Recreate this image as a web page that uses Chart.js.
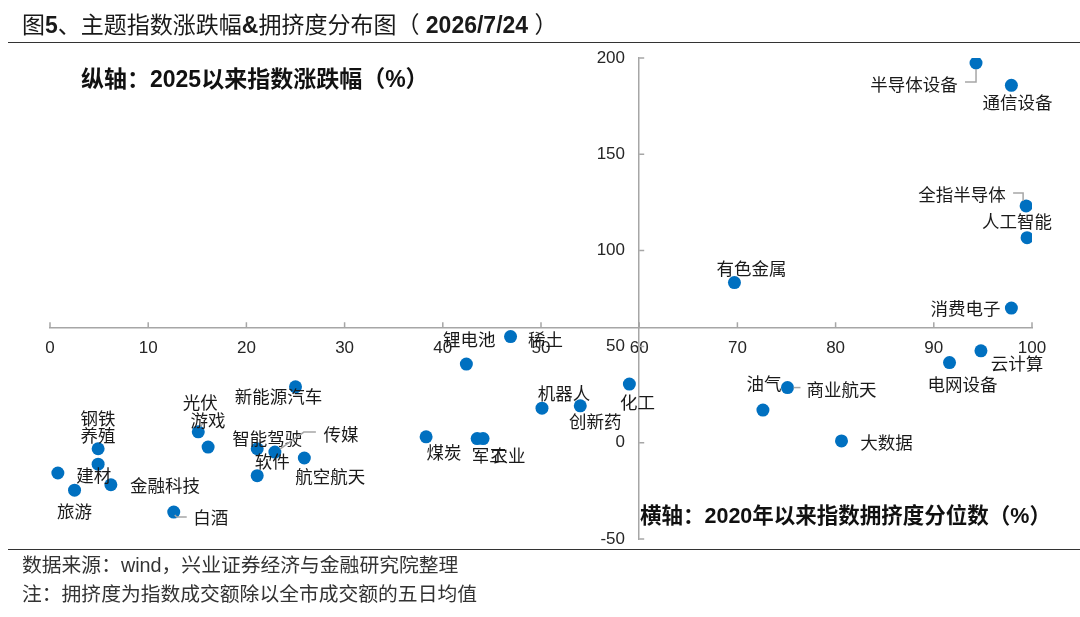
<!DOCTYPE html>
<html>
<head>
<meta charset="utf-8">
<script src="https://cdn.jsdelivr.net/npm/chart.js@4"></script>
<style>
  body { margin: 0; background: #fff; }
  #wrap { position: relative; width: 1080px; height: 617px; overflow: hidden; font-family: "Liberation Sans", "Noto Sans CJK SC", sans-serif; color: #1a1a1a; }
  #chart { position: absolute; left: 0; top: 0; }
  .txt { position: absolute; white-space: pre; line-height: 26px; }
  .title { left: 22px; top: 12px; font-size: 23px; }
  .title b { font-weight: bold; }
  .rule { position: absolute; left: 8px; right: 0; height: 1.5px; background: #333; }
  .axis-name { font-weight: bold; color: #111; }
  .note { left: 22px; font-size: 19.8px; color: #333; }
</style>
</head>
<body>
<div id="wrap">
  <canvas id="chart" width="1080" height="617"></canvas>
  <div class="txt title">图<b>5</b>、主题指数涨跌幅<b>&amp;</b>拥挤度分布图（ <b>2026/7/24</b> ）</div>
  <div class="rule" style="top:41.5px"></div>
  <div class="txt axis-name" style="left:81px; top:66px; font-size:23px">纵轴：2025以来指数涨跌幅（%）</div>
  <div class="txt axis-name" style="left:640px; top:503px; font-size:21.5px">横轴：2020年以来指数拥挤度分位数（%）</div>
  <div class="rule" style="top:548.5px"></div>
  <div class="txt note" style="top:552px">数据来源：wind，兴业证券经济与金融研究院整理</div>
  <div class="txt note" style="top:581px">注：拥挤度为指数成交额除以全市成交额的五日均值</div>
</div>

<script>
// ================= DATA =================
const names = ["半导体设备", "通信设备", "全指半导体", "人工智能", "有色金属", "消费电子", "云计算", "电网设备",
  "商业航天", "油气", "大数据", "稀土", "锂电池", "化工", "机器人", "创新药", "煤炭", "军工", "农业",
  "新能源汽车", "光伏", "游戏", "钢铁", "养殖", "建材", "金融科技", "旅游", "白酒", "智能驾驶", "传媒", "航空航天", "软件"];

// 横轴：2020年以来指数拥挤度分位数（%）
const crowding = [94.3, 97.9, 99.4, 99.5, 69.7, 97.9, 94.8, 91.6,
  75.1, 72.6, 80.6, 46.9, 42.4, 59.0, 50.1, 54.0, 38.3, 43.5, 44.1,
  25.0, 15.1, 16.1, 4.9, 4.9, 0.8, 6.2, 2.5, 12.6, 21.1, 22.9, 25.9, 21.1];

// 纵轴：2025以来指数涨跌幅（%）
const change = [197.4, 185.8, 123.1, 106.6, 83.3, 70.0, 47.8, 41.7,
  28.7, 17.0, 1.0, 55.2, 40.9, 30.5, 18.0, 19.2, 3.1, 2.2, 2.2,
  29.1, 5.7, -2.2, -3.1, -11.1, -15.7, -21.8, -24.6, -36.0, -3.1, -4.8, -7.9, -17.1];

const xTicks = [0, 10, 20, 30, 40, 50, 60, 70, 80, 90, 100];
const yTicks = [-50, 0, 50, 100, 150, 200];

// ================= LABEL LAYOUT (px, relative to point) =================
const labelOffset = {
  "半导体设备": [-62, 21], "通信设备": [6, 17], "全指半导体": [-64, -12], "人工智能": [-10, -16],
  "有色金属": [17, -14], "消费电子": [-46, 0], "云计算": [36, 13], "电网设备": [13, 22],
  "商业航天": [54, 2], "油气": [1, -27], "大数据": [45, 1], "稀土": [35, 3], "锂电池": [3, -25],
  "化工": [8, 18], "机器人": [22, -15], "创新药": [15, 15], "煤炭": [18, 16], "军工": [12, 17],
  "农业": [25, 17], "新能源汽车": [-17, 10], "光伏": [2, -29], "游戏": [0, -27], "钢铁": [0, -30],
  "养殖": [0, -29], "建材": [36, 2], "金融科技": [54, 1], "旅游": [0, 21], "白酒": [37, 5],
  "智能驾驶": [10, -10], "传媒": [66, -18], "航空航天": [26, 18], "软件": [15, -14]
};

const leaders = {
  "半导体设备": [[0, 6], [0, 19], [-11, 19]],
  "全指半导体": [[-13, -13], [-3, -13], [-3, -5]],
  "传媒": [[5, -3], [29, -20], [41, -20]],
  "商业航天": [[6, 0], [13, 0]],
  "白酒": [[1, 3], [3, 5], [13, 5]],
  "光伏": [[5, -9], [2, -5]]
};

// ================= PLUGINS =================
const tickMarks = {
  id: "tickMarks",
  afterDraw(chart) {
    const { ctx, scales: { x, y } } = chart;
    const axisY = y.getPixelForValue(60);
    const axisX = x.getPixelForValue(60);
    ctx.save();
    ctx.strokeStyle = "#a6a6a6";
    ctx.lineWidth = 1.5;
    ctx.beginPath();
    xTicks.forEach(v => {
      const px = x.getPixelForValue(v);
      ctx.moveTo(px, axisY);
      ctx.lineTo(px, axisY - 5);
    });
    yTicks.forEach(v => {
      const py = y.getPixelForValue(v);
      ctx.moveTo(axisX, py);
      ctx.lineTo(axisX + 5, py);
    });
    ctx.stroke();
    ctx.restore();
  }
};

const pointLabels = {
  id: "pointLabels",
  afterDatasetsDraw(chart) {
    const ctx = chart.ctx;
    const meta = chart.getDatasetMeta(0);
    ctx.save();
    meta.data.forEach((pt, i) => {
      const name = names[i];
      const lines = leaders[name];
      if (lines) {
        ctx.strokeStyle = "#a6a6a6";
        ctx.lineWidth = 1.5;
        ctx.beginPath();
        lines.forEach(([dx, dy], k) => {
          if (k === 0) ctx.moveTo(pt.x + dx, pt.y + dy);
          else ctx.lineTo(pt.x + dx, pt.y + dy);
        });
        ctx.stroke();
      }
      const [dx, dy] = labelOffset[name] || [0, -20];
      ctx.fillStyle = "#1a1a1a";
      ctx.font = '17.5px "Noto Sans CJK SC", sans-serif';
      ctx.textAlign = "center";
      ctx.textBaseline = "middle";
      ctx.fillText(name, pt.x + dx, pt.y + dy);
    });
    ctx.restore();
  }
};

// ================= CHART =================
const points = names.map((n, i) => ({ x: crowding[i], y: change[i] }));

const axisFont = { family: '"Liberation Sans", Arial, sans-serif', size: 17 };

new Chart(document.getElementById("chart"), {
  type: "scatter",
  data: {
    datasets: [{
      data: points,
      backgroundColor: "#0070c0",
      borderWidth: 0,
      pointRadius: 6.5,
      pointHoverRadius: 6.5
    }]
  },
  options: {
    responsive: false,
    animation: false,
    events: [],
    layout: { padding: { left: 50, right: 48, top: 58, bottom: 78 } },
    plugins: { legend: { display: false }, tooltip: { enabled: false } },
    scales: {
      x: {
        type: "linear",
        min: 0,
        max: 100,
        position: { y: 60 },
        afterBuildTicks: s => { s.ticks = xTicks.map(v => ({ value: v })); },
        grid: { drawOnChartArea: false, drawTicks: false },
        border: { display: true, color: "#a6a6a6", width: 1.5 },
        ticks: { color: "#262626", font: axisFont, padding: 11, maxRotation: 0, autoSkip: false }
      },
      y: {
        type: "linear",
        min: -50,
        max: 200,
        position: { x: 60 },
        afterBuildTicks: s => { s.ticks = yTicks.map(v => ({ value: v })); },
        grid: { drawOnChartArea: false, drawTicks: false },
        border: { display: true, color: "#a6a6a6", width: 1.5 },
        // centred axis ignores padding, so trailing spaces keep labels off the line
        ticks: { color: "#262626", font: axisFont, autoSkip: false, callback: v => v + "   " }
      }
    }
  },
  plugins: [tickMarks, pointLabels]
});
</script>
</body>
</html>
